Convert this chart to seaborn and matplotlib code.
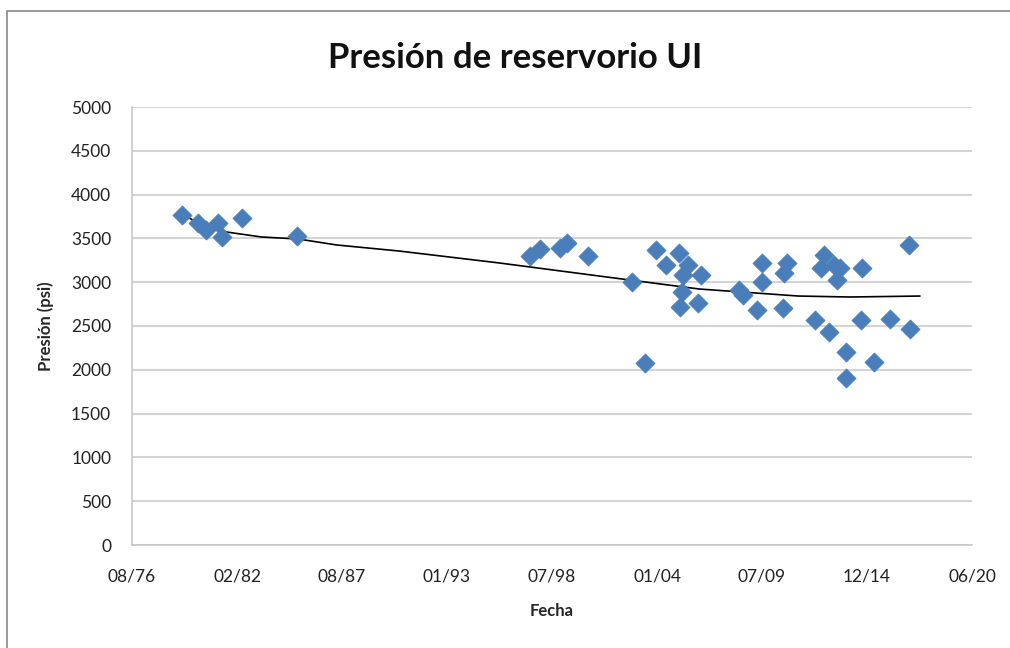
import pandas as pd
import numpy as np
import matplotlib
matplotlib.use("Agg")
import matplotlib.pyplot as plt
import matplotlib.dates as mdates
from matplotlib.patches import Rectangle
import seaborn as sns

# Measured reservoir pressure (psi) by date
fechas = [
    "1979-04", "1980-02", "1980-07", "1981-03", "1981-05", "1982-06", "1985-04",
    "1997-06", "1997-12", "1999-01", "1999-05", "2000-06",
    "2002-10", "2003-06", "2004-01", "2004-07", "2005-03", "2005-09", "2005-06",
    "2006-05", "2005-05", "2005-04", "2006-03",
    "2008-07", "2008-05", "2009-04", "2009-07", "2009-07", "2010-08", "2010-11",
    "2010-09", "2012-04", "2012-08", "2012-10", "2013-04", "2013-01",
    "2013-06", "2013-08", "2013-12", "2013-12", "2014-10", "2014-09",
    "2015-05", "2016-03", "2017-03", "2017-04",
]
presion = [
    3767, 3676, 3596, 3676, 3516, 3733, 3527,
    3300, 3380, 3390, 3447, 3299,
    3002, 2078, 3368, 3196, 3333, 3196, 3082,
    3082, 2888, 2717, 2763,
    2854, 2911, 2683, 3219, 3002, 2705, 3219,
    3105, 2568, 3162, 3311, 3196, 2431,
    3025, 3162, 2203, 1906, 3162, 2568,
    2089, 2580, 3425, 2466,
]

# Trend line
trend_fechas = [
    "1979-03", "1980-01", "1981-08", "1983-06", "1985-05", "1987-05",
    "1990-08", "1995-11", "2001-01", "2006-04", "2011-06", "2014-02", "2017-10",
]
trend_presion = [3795, 3687, 3573, 3516, 3493, 3425, 3356, 3219, 3071, 2922, 2842, 2831, 2842]

df = pd.DataFrame({"fecha": pd.to_datetime(fechas), "presion": presion})
tr = pd.DataFrame({"fecha": pd.to_datetime(trend_fechas), "presion": trend_presion})

sns.set_style("white")
plt.rcParams["font.family"] = ["Lato", "DejaVu Sans"]

fig = plt.figure(figsize=(10.1, 6.48), dpi=100)
ax = fig.add_axes([132 / 1010, 1 - 545 / 648, 840 / 1010, 438 / 648])

sns.lineplot(data=tr, x="fecha", y="presion", color="black", linewidth=1.2, ax=ax, zorder=2)
sns.scatterplot(data=df, x="fecha", y="presion", marker="D", s=95, color="#4a7ebb",
                edgecolor="#4a7ebb", linewidth=0.5, ax=ax, zorder=3)

start = pd.Timestamp("1976-08-28")
ticks = [start + pd.Timedelta(days=2000 * i) for i in range(9)]
ax.set_xlim(ticks[0], ticks[-1])
ax.set_xticks(ticks)
ax.xaxis.set_major_formatter(mdates.DateFormatter("%m/%y"))
ax.set_ylim(0, 5000)
ax.set_yticks(range(0, 5001, 500))

ax.grid(axis="y", color="#d4d4d4", linewidth=1.5)
ax.set_axisbelow(True)
for s in ["top", "right"]:
    ax.spines[s].set_visible(False)
for s in ["left", "bottom"]:
    ax.spines[s].set_color("#c8c8c8")
    ax.spines[s].set_linewidth(1.2)
ax.tick_params(axis="both", length=0, labelsize=12.5, colors="#222222")
ax.tick_params(axis="x", pad=17)
ax.tick_params(axis="y", pad=15)

ax.set_xlabel("Fecha", fontsize=12, fontweight="bold", labelpad=13)
ax.set_ylabel("Presión (psi)", fontsize=12, fontweight="bold", labelpad=12)
fig.text(0.51, 1 - 58 / 648, "Presión de reservorio UI", ha="center", va="center",
         fontsize=25, fontweight="bold", color="#111111")

fig.patches.append(Rectangle((7 / 1010, -0.1), 1.2, 1 - 11 / 648 + 0.1, transform=fig.transFigure,
                             fill=False, edgecolor="#888888", linewidth=1.2))

fig.savefig("out.png", dpi=100)
